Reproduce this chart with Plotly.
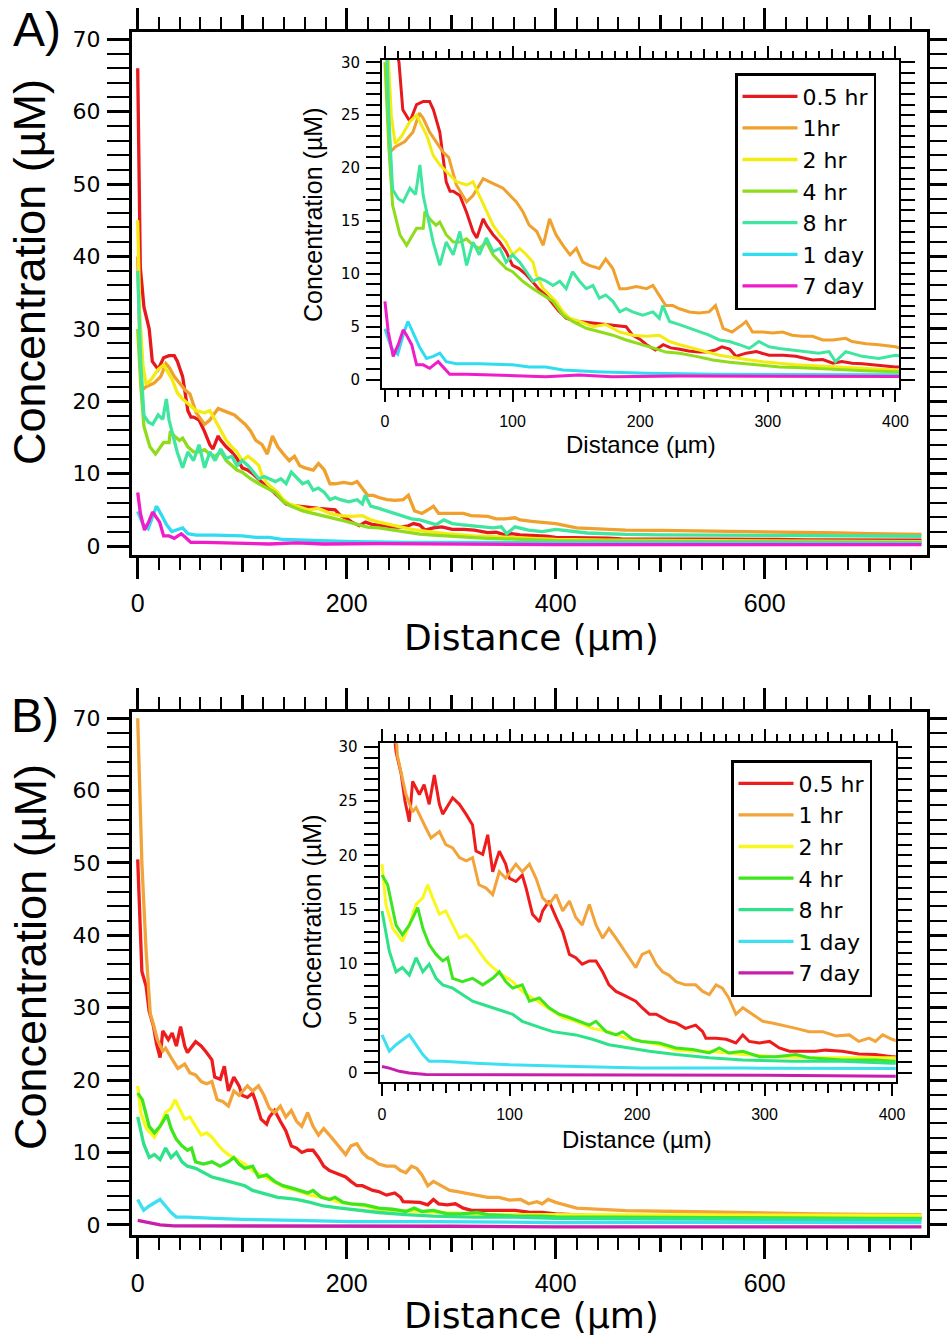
import plotly.graph_objects as go

W, H = 947, 1343

# ---------------- Panel A data (distance in um, concentration in uM) ----------------
A_red_d = [0, 2.5, 6, 11, 14, 19.6, 24.8, 30, 35, 38, 43, 45.6, 48, 51, 53.5, 58.7, 64, 69, 72, 77, 79.5, 84.7, 90, 95, 100,
           105, 110, 116, 121, 126, 131, 136, 142, 147, 152, 160, 167, 173, 181, 189, 194, 200, 205, 212, 218, 224, 230, 238,
           246, 252, 259, 264, 270, 275, 283, 291, 301, 312, 322, 335, 343, 351, 358, 366, 374, 382, 391, 400, 420, 433, 450,
           463, 490, 520, 550, 580, 610, 640, 670, 700, 730, 750]
A_red_c = [66, 38.5, 33, 30, 25.5, 24.4, 26, 26.3, 26.3, 25.5, 23.4, 21.2, 18.7, 17.8, 17.8, 17.4, 15.8, 14, 13.4, 15.2, 14.6, 13.7, 13, 12.1, 10.8,
           10.5, 10, 9.2, 8.5, 8, 7.3, 6.5, 5.8, 5.6, 5.5, 5.4, 5.3, 5.2, 5.1, 5, 4.2, 3.8, 3.3, 2.8, 3.3, 3.0, 2.9, 2.7,
           2.6, 2.6, 2.8, 3.1, 2.9, 2.2, 2.5, 2.65, 2.3, 2.3, 2.2, 1.85, 1.9, 1.55, 1.7, 1.55, 1.5, 1.4, 1.35, 1.2, 1.2, 1.15, 1.1,
           1.0, 1.0, 0.95, 0.95, 0.9, 0.9, 0.85, 0.85, 0.8, 0.8, 0.8]

A_org_d = [0, 2, 4, 8, 15.6, 22, 27, 30, 35, 40, 45.6, 50, 56, 64, 69, 74, 77, 82, 87, 92.6, 98, 103, 108, 113, 119, 124, 129,
           134, 139.5, 145, 150, 155, 160, 168, 173, 178.6, 184, 189, 197, 205, 210, 215, 220, 225.5, 230.8, 238.6, 246, 254,
           259, 265, 272, 280, 283, 288, 296, 304, 311.6, 319, 327, 335, 343, 351, 361, 366, 377, 387, 400, 420, 440, 467,
           500, 534, 570, 600, 635, 670, 700, 730, 750]
A_org_c = [40, 28, 21.5, 22, 22.5, 23.4, 25.2, 24.7, 23.4, 22.5, 21.5, 21, 18.4, 16.8, 17.4, 18.4, 19, 18.7, 18.4, 18.1, 17.4, 16.8, 15.9, 14.6, 14, 12.7, 15.2,
           13.7, 12.7, 11.8, 12.4, 11.1, 10.8, 10.5, 11.4, 10.5, 8.6, 8.6, 8.8, 8.6, 8.9, 8, 7, 7, 6.7, 6.4, 6.3, 6.4,
           7, 4.85, 4.5, 5.2, 5.5, 4.5, 4.5, 4.4, 4.5, 4.2, 4.1, 4.1, 3.75, 3.75, 3.9, 3.6, 3.4, 3.3, 3.1, 2.5, 2.4, 2.2,
           2.15, 2.1, 2.0, 1.95, 1.85, 1.8, 1.7, 1.65, 1.6]

A_yel_d = [0, 2, 5, 8, 13, 19.6, 24.8, 28.7, 33, 37.8, 43, 48, 56, 64, 69, 74, 79.5, 84.7, 90, 95, 100, 105.6, 110.8, 116, 118.6,
           124, 129, 134, 139.5, 145, 152.5, 163, 173, 184, 194, 205, 215, 223, 231, 241, 252, 262, 278, 296, 322, 348, 374,
           400, 450, 500, 550, 600, 650, 700, 750]
A_yel_c = [45, 32, 25, 22.3, 23, 24.4, 25, 24, 23, 21.2, 20.3, 19.7, 18.7, 18.4, 18.7, 17.4, 15.9, 14.6, 13.7, 13, 11.8, 12.4, 11.8, 11.1, 9.9,
           8.6, 8, 7.4, 6.4, 5.8, 5.5, 5, 5.2, 4.5, 4.2, 4.1, 4.2, 3.6, 3.3, 3, 2.6, 2.3, 2.0, 1.7, 1.4, 1.2, 1.07,
           0.9, 0.8, 0.75, 0.7, 0.7, 0.65, 0.65, 0.6]

A_grn_d = [0, 3, 6, 7.8, 11.7, 17, 22, 24.8, 30, 31.3, 35, 40, 43, 48, 53.5, 58.7, 64, 69, 74, 79.5, 84.7, 90, 95, 100, 108, 116,
           124, 131.7, 139.5, 147, 157.8, 168, 178.6, 189, 199.5, 210, 220, 230.8, 243.8, 257, 270, 283, 296, 309, 322, 335,
           348, 361, 380, 400, 450, 500, 550, 600, 650, 700, 750]
A_grn_c = [30, 22, 16.5, 15.6, 13.7, 12.7, 13.7, 14.3, 14.3, 15.9, 15.2, 14.6, 14.9, 13.7, 13, 13, 13.3, 12.7, 12.4, 13, 11.8, 11.1, 10.5, 10.2, 9.3, 8.6,
           8, 7.4, 6.1, 5.5, 4.85, 4.5, 4.2, 3.75, 3.4, 3, 2.6, 2.5, 2.2, 1.85, 1.65, 1.5, 1.35, 1.2, 1.15, 1.07,
           1.0, 0.9, 0.82, 0.75, 0.7, 0.65, 0.6, 0.58, 0.55, 0.52, 0.5]

A_tel_d = [0, 3, 6, 10.4, 14.3, 19.6, 24, 27.4, 30, 35, 37.8, 43, 48, 53.5, 58.7, 64, 69, 74, 79.5, 84.7, 90, 95, 100, 105.6,
           110.8, 116, 121, 126.5, 131.7, 137, 142, 147, 152.5, 157.8, 163, 168, 173, 178.6, 184, 189, 194, 202, 210, 215,
           217.7, 223, 230.8, 238.6, 246, 254, 262, 270, 277.7, 285.5, 293, 301, 309, 319, 330, 340, 348, 353, 361, 374, 387,
           400, 430, 467, 500, 550, 600, 650, 700, 750]
A_tel_c = [38, 25, 18, 17.1, 16.8, 18.1, 17.5, 20.3, 17.4, 14.6, 13, 10.8, 13, 11.8, 14, 10.8, 13, 11.8, 13.4, 12.1, 12.4, 11.1, 11.8, 11.1,
           10.2, 9.3, 9.6, 9.3, 8.9, 9.3, 8.6, 10.2, 9.3, 8.6, 8.9, 7.7, 8, 7.4, 6.4, 6.7, 6.4, 6.1, 6.4, 5.8,
           7, 5.5, 5.2, 4.85, 4.5, 4.2, 3.75, 3.6, 3.3, 2.95, 3.6, 3.1, 2.95, 2.8, 2.65, 2.5, 2.65, 1.7, 2.65, 2.2, 2.0,
           2.3, 1.8, 1.6, 1.55, 1.5, 1.45, 1.4, 1.4, 1.35]

A_cyn_d = [0, 5, 10, 15, 18, 22, 27.4, 32.6, 37.8, 43, 48, 56, 74, 100, 113, 126, 139.5, 165.6, 205, 257, 300, 350, 400, 500, 600, 700, 750]
A_cyn_c = [4.8, 3.0, 2.4, 4.5, 5.5, 4.5, 3, 2, 2.2, 2.5, 1.7, 1.5, 1.5, 1.4, 1.2, 1.2, 0.9, 0.75, 0.6, 0.5, 0.5, 0.45, 0.45, 0.42, 0.4, 0.4, 0.4]

A_mag_d = [0, 2.6, 6.5, 10.4, 14.3, 17, 21, 24.8, 30, 35, 41.7, 45.6, 50.8, 64, 100, 126, 152, 178, 231, 300, 400, 500, 600, 700, 750]
A_mag_c = [7.4, 4.5, 2.2, 3.3, 4.7, 4.2, 3.3, 1.4, 1.4, 1.07, 1.7, 1.2, 0.5, 0.5, 0.37, 0.28, 0.44, 0.28, 0.34, 0.25, 0.18, 0.2, 0.15, 0.2, 0.2]

# ---------------- Panel B data ----------------
B_red_d = [0, 4, 8, 11, 15, 18, 21.4, 24, 29.3, 33, 37, 41, 45, 47.6, 55.4, 60.7, 65.9, 71, 73.7, 79, 82.9, 86.8, 92, 97, 99.9,
           105, 110, 113, 118, 123.4, 126, 131, 136.5, 141.7, 147, 152, 157, 162.6, 167.8, 173, 178, 183.5, 188.8, 194, 199,
           204, 209.7, 215, 220, 225, 230.6, 238, 246, 251.5, 254, 262, 270, 277.6, 283, 288, 296, 304, 311.6, 319.5, 330,
           340, 348, 361, 374, 387, 400, 450, 500, 550, 600, 650, 700, 750]
B_red_c = [50.5, 35, 33, 29.5, 27.5, 25, 23.1, 26.8, 25.6, 26.5, 24.7, 27.4, 24.7, 23.8, 25.3, 24.7, 23.8, 22.8, 20.4, 20.1, 21.9, 18.5, 20.4, 19.2, 17.9,
           17.6, 18.2, 17, 14.6, 13.9, 14.9, 15.8, 14.3, 13, 10.9, 10.6, 10, 10.3, 10.3, 9.3, 8.1, 7.5, 7.2, 6.9, 6.6,
           6.0, 5.4, 5.4, 5.1, 4.75, 4.6, 4.1, 4.4, 3.8, 3.2, 3.2, 3.1, 2.76, 3.5, 2.9, 2.76, 2.9, 2.3, 2.0, 2.0,
           2.0, 2.1, 2.0, 1.75, 1.7, 1.5, 1.2, 1.1, 1.0, 1.0, 0.95, 0.95, 0.9]

B_org_d = [0, 4, 8, 12, 15, 18.8, 24, 26.7, 34.5, 38.4, 45, 50, 55.4, 60.7, 66, 71, 76, 81.6, 86.8, 92, 97, 105, 110, 115.6,
           120.8, 126, 131, 136.5, 141.7, 147, 152, 157, 162.6, 167.8, 173, 178, 183.5, 188.8, 194, 199, 204, 209.7, 215, 220,
           225, 230.6, 238, 246, 251.5, 256.7, 262, 267, 272, 277.6, 283, 291, 298.6, 306, 314, 324.7, 335, 345.6, 356, 366.5,
           374, 382, 387, 392.7, 400, 420, 467, 534, 600, 650, 700, 750]
B_org_c = [70, 50, 38, 29.2, 27.7, 25.6, 24, 24.4, 22.5, 21.6, 22.2, 21, 20.7, 19.8, 19.5, 19.8, 17.3, 17, 16.4, 18.5, 17.9, 19.2, 18.5, 19.2,
           17.9, 16.1, 15.5, 16.4, 14.9, 15.8, 14.3, 13.6, 15.5, 13.6, 12.4, 13.3, 12.4, 11.5, 10.6, 9.7, 10.9, 11.2, 10, 9.3,
           9.0, 8.4, 8.1, 8.1, 7.5, 7.2, 8.1, 7.8, 6.9, 5.4, 6, 5.4, 4.75, 4.6, 4.4, 4.1, 3.8, 3.8, 3.4, 3.5,
           2.9, 3.2, 2.9, 3.5, 3.1, 2.3, 1.95, 1.8, 1.6, 1.5, 1.45, 1.4]

B_yel_d = [0, 3, 8.4, 13.6, 16, 21.4, 26.7, 32, 35.8, 39.7, 45, 50, 55.4, 60.7, 66, 71, 76, 81.6, 86.8, 94.6, 102.5, 110, 118,
           126, 133.9, 141.7, 152, 165, 178, 191, 204, 217.5, 230.6, 243.7, 256.7, 283, 309, 335, 361, 400, 450, 500, 550,
           600, 650, 700, 750]
B_yel_c = [19.2, 15.5, 13.3, 12.4, 12.1, 13.6, 15.5, 16.1, 17.3, 16.1, 14.6, 14.9, 13.6, 12.4, 12.7, 12.1, 11.2, 10.3, 9.7, 9.0, 8.4, 7.5, 6.9,
           6.3, 5.7, 5.1, 4.75, 4.1, 3.8, 3.2, 2.9, 2.6, 2.1, 2.0, 2.0, 1.7, 1.5, 1.4, 1.4, 1.4, 1.35, 1.35, 1.3,
           1.3, 1.3, 1.3, 1.3]

B_grn_d = [0, 4.4, 11, 16, 21.4, 28, 32, 37, 42.4, 47.6, 51.5, 55.4, 63, 71, 79, 86.8, 92, 97, 102.5, 110, 115.6, 123.4, 131,
           139, 147, 154.8, 162.6, 167.8, 175.7, 183.5, 188.8, 196.6, 204, 217.5, 230.6, 243.7, 256.7, 264.6, 272, 283, 296,
           309, 324.7, 335, 361, 387, 400, 450, 500, 550, 600, 650, 700, 750]
B_grn_c = [18.2, 17.3, 13.6, 12.7, 13.6, 15.2, 13.3, 11.8, 10.9, 10.3, 10.6, 8.7, 8.4, 8.7, 8.1, 8.7, 9.3, 8.4, 7.8, 8.1, 6.6, 6.9, 6,
           5.4, 5.1, 4.75, 4.4, 4.75, 3.8, 3.5, 3.8, 3.1, 2.9, 2.76, 2.3, 2.15, 1.84, 2.3, 1.84, 2.0, 1.5,
           1.5, 1.7, 1.4, 1.2, 1.2, 1.1, 1.05, 1.0, 1.0, 0.95, 0.95, 0.9, 0.9]

B_tel_d = [0, 5.7, 11, 16, 21.4, 26.7, 32, 37, 42.4, 47.6, 55.4, 63, 71, 79, 86.8, 94.6, 102.5, 110, 118, 126, 133.9, 141.7,
           152, 165, 178, 194, 209.7, 230.6, 256.7, 283, 322, 361, 400, 450, 500, 550, 600, 650, 700, 750]
B_tel_c = [14.9, 11.2, 9.3, 9.7, 9.0, 10.6, 9.3, 10, 8.7, 8.1, 7.8, 7.2, 6.6, 6.3, 6.0, 5.7, 5.4, 4.75, 4.4, 4.1, 3.8, 3.7,
           3.5, 3.1, 2.6, 2.3, 2.0, 1.7, 1.4, 1.2, 1.07, 1.07, 0.9, 0.85, 0.8, 0.8, 0.75, 0.75, 0.7, 0.7]

B_cyn_d = [0, 5.7, 11, 16, 21.4, 26.7, 32, 37, 47.6, 73.7, 100, 152, 204, 283, 400, 500, 600, 700, 750]
B_cyn_c = [3.5, 2.0, 2.6, 3.0, 3.5, 2.6, 1.7, 1.07, 1.07, 0.9, 0.75, 0.6, 0.45, 0.45, 0.3, 0.35, 0.3, 0.3, 0.3]

B_mag_d = [0, 5.7, 13.6, 21.4, 34.5, 73.7, 152, 300, 400, 500, 600, 750]
B_mag_c = [0.6, 0.45, 0.15, 0.0, -0.15, -0.15, -0.15, -0.2, -0.3, -0.25, -0.3, -0.3]

A_names = ["0.5 hr", "1hr", "2 hr", "4 hr", "8 hr", "1 day", "7 day"]
B_names = ["0.5 hr", "1 hr", "2 hr", "4 hr", "8 hr", "1 day", "7 day"]
A_colors = ["#e8191e", "#f0a02c", "#f3ec12", "#8edc1c", "#3ee6a0", "#30dcf0", "#f01cc8"]
B_colors = ["#ee1c1c", "#f2a43a", "#f8f81e", "#3ee61e", "#2ee28a", "#3ce0f0", "#c81eaa"]

A_series = [(A_red_d, A_red_c), (A_org_d, A_org_c), (A_yel_d, A_yel_c), (A_grn_d, A_grn_c),
            (A_tel_d, A_tel_c), (A_cyn_d, A_cyn_c), (A_mag_d, A_mag_c)]
B_series = [(B_red_d, B_red_c), (B_org_d, B_org_c), (B_yel_d, B_yel_c), (B_grn_d, B_grn_c),
            (B_tel_d, B_tel_c), (B_cyn_d, B_cyn_c), (B_mag_d, B_mag_c)]

for d, c in A_series + B_series:
    assert len(d) == len(c), (len(d), len(c))

def px_x(p):
    return p / W

def px_y(p):
    return 1 - p / H

fig = go.Figure()

def add_panel(series, names, colors, xm, ym, xi, yi, legend):
    for (d, c), nm, col in zip(series, names, colors):
        fig.add_trace(go.Scatter(x=d, y=c, mode="lines", name=nm, line=dict(color=col, width=3.3),
                                 xaxis=xm, yaxis=ym, legend=legend, showlegend=True))
    for (d, c), nm, col in zip(series, names, colors):
        fig.add_trace(go.Scatter(x=d, y=c, mode="lines", name=nm, line=dict(color=col, width=3),
                                 xaxis=xi, yaxis=yi, showlegend=False))

add_panel(A_series, A_names, A_colors, "x", "y", "x2", "y2", "legend")
add_panel(B_series, B_names, B_colors, "x3", "y3", "x4", "y4", "legend2")

# invisible traces so that the medium-tick overlay axes are created
for xa, ya in [("x5", "y"), ("x6", "y3"), ("x7", "y2"), ("x8", "y4")]:
    fig.add_trace(go.Scatter(x=[None], y=[None], xaxis=xa, yaxis=ya, showlegend=False, hoverinfo="skip"))

BLACK = "black"

def main_x(dom, anchor, rng):
    return dict(domain=dom, anchor=anchor, range=rng, tickmode="linear", tick0=0, dtick=200,
                ticks="outside", ticklen=21, tickwidth=2.5, tickcolor=BLACK,
                minor=dict(dtick=20, tick0=0, ticks="outside", ticklen=12, tickwidth=2, tickcolor=BLACK),
                showline=True, linewidth=3, linecolor=BLACK, mirror="allticks", showgrid=False, zeroline=False,
                automargin=False,
                tickfont=dict(family="Liberation Sans", size=25, color=BLACK), ticklabelstandoff=3)

def main_y(dom, anchor, rng):
    return dict(domain=dom, anchor=anchor, range=rng, tickmode="linear", tick0=0, dtick=10,
                ticks="outside", ticklen=22, tickwidth=2.5, tickcolor=BLACK,
                minor=dict(dtick=2, tick0=0, ticks="outside", ticklen=12, tickwidth=2, tickcolor=BLACK),
                showline=True, linewidth=3, linecolor=BLACK, mirror="allticks", showgrid=False, zeroline=False,
                automargin=False,
                tickfont=dict(family="DejaVu Sans", size=22, color=BLACK), ticklabelstandoff=2)

def ins_x(dom, anchor, rng):
    return dict(domain=dom, anchor=anchor, range=rng, tickmode="linear", tick0=0, dtick=100,
                ticks="outside", ticklen=12, tickwidth=2, tickcolor=BLACK,
                minor=dict(dtick=10, tick0=0, ticks="outside", ticklen=7, tickwidth=1.5, tickcolor=BLACK),
                showline=True, linewidth=2, linecolor=BLACK, mirror="allticks", showgrid=False, zeroline=False,
                automargin=False,
                tickfont=dict(family="Liberation Sans", size=16, color=BLACK), ticklabelstandoff=5)

def ins_y(dom, anchor, rng):
    return dict(domain=dom, anchor=anchor, range=rng, tickmode="linear", tick0=0, dtick=5,
                ticks="outside", ticklen=14, tickwidth=2, tickcolor=BLACK,
                minor=dict(dtick=1, tick0=0, ticks="outside", ticklen=8, tickwidth=1.5, tickcolor=BLACK),
                showline=True, linewidth=2, linecolor=BLACK, mirror="allticks", showgrid=False, zeroline=False,
                automargin=False,
                tickfont=dict(family="DejaVu Sans", size=15, color=BLACK), ticklabelstandoff=3)

def overlay_x(over, anchor, rng, dtick, tlen, tw):
    return dict(overlaying=over, anchor=anchor, range=rng, tickmode="linear", tick0=0, dtick=dtick,
                ticks="outside", ticklen=tlen, tickwidth=tw, tickcolor=BLACK, showticklabels=False,
                showline=False, mirror="ticks", showgrid=False, zeroline=False, automargin=False)

MX = [px_x(132), px_x(927)]
MXR = [-5.45, 755.3]
A_YD = [px_y(555), px_y(32)]
A_YR = [-1.24, 71.0]
B_YD = [px_y(1235), px_y(711.7)]
B_YR = [-1.41, 70.9]
AI_XD = [px_x(382), px_x(899)]
AI_XR = [-2.3, 402.8]
AI_YD = [px_y(388.3), px_y(59.5)]
AI_YR = [-0.82, 30.26]
BI_XD = [px_x(379.6), px_x(895.7)]
BI_XR = [-1.9, 402.9]
BI_YD = [px_y(1082), px_y(743.3)]
BI_YR = [-0.83, 30.31]

fig.update_layout(
    width=W, height=H, margin=dict(l=0, r=0, t=0, b=0, pad=0, autoexpand=False),
    paper_bgcolor="white", plot_bgcolor="white",
    font=dict(family="DejaVu Sans", color=BLACK),
    xaxis=main_x(MX, "y", MXR), yaxis=main_y(A_YD, "x", A_YR),
    xaxis2=ins_x(AI_XD, "y2", AI_XR), yaxis2=ins_y(AI_YD, "x2", AI_YR),
    xaxis3=main_x(MX, "y3", MXR), yaxis3=main_y(B_YD, "x3", B_YR),
    xaxis4=ins_x(BI_XD, "y4", BI_XR), yaxis4=ins_y(BI_YD, "x4", BI_YR),
    xaxis5=overlay_x("x", "y", MXR, 100, 16, 2.5),
    xaxis6=overlay_x("x3", "y3", MXR, 100, 16, 2.5),
    xaxis7=overlay_x("x2", "y2", AI_XR, 50, 10, 2),
    xaxis8=overlay_x("x4", "y4", BI_XR, 50, 10, 2),
    legend=dict(x=px_x(735), y=px_y(73), xanchor="left", yanchor="top", bgcolor="white",
                bordercolor=BLACK, borderwidth=2.5, font=dict(family="DejaVu Sans", size=22, color=BLACK),
                itemwidth=55, tracegroupgap=0),
    legend2=dict(x=px_x(731), y=px_y(760), xanchor="left", yanchor="top", bgcolor="white",
                 bordercolor=BLACK, borderwidth=2.5, font=dict(family="DejaVu Sans", size=22, color=BLACK),
                 itemwidth=55, tracegroupgap=0),
    showlegend=True,
)

def ann(text, xp, yp, size, family="DejaVu Sans", angle=0):
    fig.add_annotation(text=text, x=px_x(xp), y=px_y(yp), xref="paper", yref="paper",
                       xanchor="center", yanchor="middle", showarrow=False, textangle=angle,
                       font=dict(family=family, size=size, color=BLACK))

ann("A)", 37, 30, 48, "Liberation Sans")
ann("B)", 35, 715, 48, "Liberation Sans")
ann("Concentration (µM)", 30, 272, 45, "Liberation Sans", -90)
ann("Concentration (µM)", 30, 957, 45, "Liberation Sans", -90)
ann("Distance (µm)", 531, 637, 36)
ann("Distance (µm)", 531, 1315, 36)
ann("Concentration (µM)", 313, 215, 25, "Liberation Sans", -90)
ann("Concentration (µM)", 312, 922, 25, "Liberation Sans", -90)
ann("Distance (µm)", 641, 444, 24, "Liberation Sans")
ann("Distance (µm)", 637, 1139, 24, "Liberation Sans")

fig.write_html("out.html", config={"displayModeBar": False},
               post_script="document.body.style.margin='0px';document.body.style.padding='0px';"
                           "document.body.style.overflow='hidden';")
